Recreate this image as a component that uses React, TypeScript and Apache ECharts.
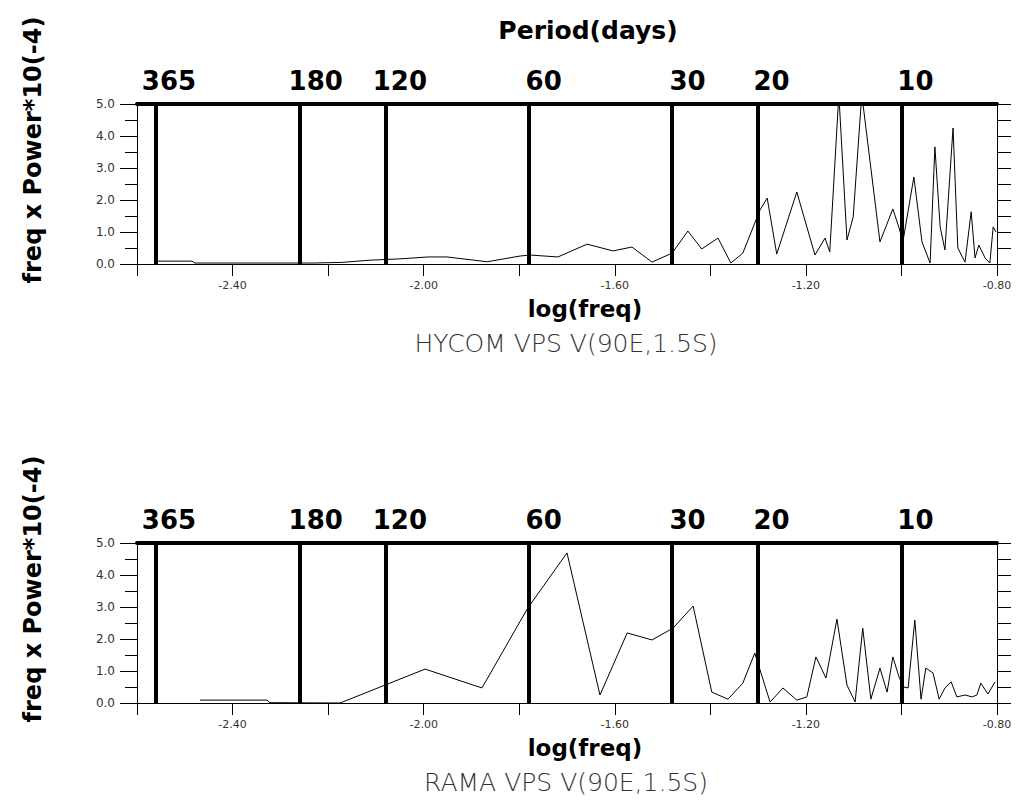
import React, { useEffect, useRef } from "react";
import * as echarts from "echarts";

const periods = [365, 180, 120, 60, 30, 20, 10];

const hycomLogFreq = [-2.558, -2.485, -2.479, -2.336, -2.232, -2.171, -2.112, -2.05, -1.991, -1.951, -1.867, -1.798, -1.777, -1.719, -1.658, -1.604, -1.564, -1.522, -1.48, -1.447, -1.418, -1.384, -1.357, -1.332, -1.296, -1.281, -1.261, -1.219, -1.181, -1.16, -1.15, -1.131, -1.114, -1.101, -1.083, -1.045, -1.018, -1.005, -0.997, -0.974, -0.957, -0.94, -0.93, -0.919, -0.909, -0.892, -0.882, -0.867, -0.854, -0.846, -0.838, -0.825, -0.815, -0.808, -0.802];
const hycomPower = [0.09, 0.09, 0.03, 0.03, 0.03, 0.05, 0.12, 0.16, 0.22, 0.22, 0.07, 0.25, 0.28, 0.22, 0.62, 0.41, 0.53, 0.06, 0.34, 1.03, 0.47, 0.81, 0.03, 0.34, 1.69, 2.06, 0.31, 2.25, 0.28, 0.81, 0.38, 5.3, 0.75, 1.47, 5.3, 0.69, 1.72, 1.13, 0.69, 2.72, 0.69, 0.03, 3.66, 1.16, 0.44, 4.25, 0.5, 0.06, 1.63, 0.19, 0.59, 0.19, 0.03, 1.16, 1.0];

const ramaLogFreq = [-2.468, -2.328, -2.322, -2.175, -1.997, -1.878, -1.782, -1.7, -1.631, -1.574, -1.522, -1.478, -1.436, -1.397, -1.363, -1.332, -1.307, -1.275, -1.248, -1.219, -1.198, -1.179, -1.158, -1.135, -1.114, -1.097, -1.081, -1.064, -1.045, -1.03, -1.018, -1.005, -0.995, -0.986, -0.972, -0.959, -0.949, -0.934, -0.921, -0.909, -0.896, -0.884, -0.867, -0.852, -0.842, -0.834, -0.819, -0.804];
const ramaPower = [0.09, 0.09, 0.01, 0.0, 1.06, 0.47, 2.97, 4.69, 0.25, 2.19, 1.97, 2.34, 3.03, 0.34, 0.12, 0.62, 1.56, 0.03, 0.47, 0.09, 0.19, 1.44, 0.78, 2.62, 0.56, 0.03, 2.34, 0.12, 1.09, 0.34, 1.44, 0.81, 0.5, 0.47, 2.59, 0.12, 1.09, 0.94, 0.12, 0.47, 0.66, 0.19, 0.25, 0.19, 0.25, 0.62, 0.28, 0.66];

const xMin = -2.6;
const xMax = -0.8;
const yMin = 0;
const yMax = 5;

const panelTitles = ["HYCOM VPS V(90E,1.5S)", "RAMA VPS V(90E,1.5S)"];
const yName = "freq x Power*10(-4)";
const xName = "log(freq)";
const topName = "Period(days)";

const GRID_LEFT = 137;
const GRID_WIDTH = 860;
const GRID_H = 160;
const GRID_TOPS = [104, 543];

export default function App() {
  const ref = useRef<HTMLDivElement>(null);
  useEffect(() => {
    if (!ref.current) return;
    const chart = echarts.init(ref.current, null, { renderer: "svg" });
    const panels = [
      { freq: hycomLogFreq, power: hycomPower },
      { freq: ramaLogFreq, power: ramaPower },
    ];
    const grid: any[] = [];
    const xAxis: any[] = [];
    const yAxis: any[] = [];
    const series: any[] = [];
    const graphic: any[] = [];
    const periodVals = periods.map((p) => -Math.log10(p));

    panels.forEach((pn, i) => {
      const top = GRID_TOPS[i];
      grid.push({
        left: GRID_LEFT,
        top,
        width: GRID_WIDTH,
        height: GRID_H,
        containLabel: false,
        outerBoundsMode: "none",
      });
      xAxis.push({
        type: "value",
        gridIndex: i,
        position: "bottom",
        min: xMin,
        max: xMax,
        interval: 0.2,
        axisLine: { show: true, onZero: false, lineStyle: { color: "#000", width: 1 } },
        axisTick: { show: true, inside: false, length: 12, lineStyle: { color: "#000", width: 1 } },
        axisLabel: {
          show: true,
          margin: 16,
          fontSize: 11,
          color: "#333",
          fontFamily: "DejaVu Sans",
          showMinLabel: true,
          showMaxLabel: true,
          formatter: (v: number) => {
            const k = Math.round(v * 100);
            return k % 40 === 0 ? v.toFixed(2) : "";
          },
        },
        splitLine: { show: false },
      });
      xAxis.push({
        type: "value",
        gridIndex: i,
        position: "top",
        min: xMin,
        max: xMax,
        axisLine: { show: true, onZero: false, lineStyle: { color: "#000", width: 4 } },
        axisTick: { show: false },
        axisLabel: {
          show: true,
          customValues: periodVals,
          margin: 10,
          fontSize: 26,
          fontWeight: "bold",
          color: "#000",
          fontFamily: "DejaVu Sans",
          padding: [0, 0, 0, 28],
          formatter: (v: number) => String(Math.round(Math.pow(10, -v))),
        },
        splitLine: { show: false },
      });
      yAxis.push({
        type: "value",
        gridIndex: i,
        position: "left",
        min: yMin,
        max: yMax,
        interval: 1,
        axisLine: { show: true, onZero: false, lineStyle: { color: "#000", width: 1 } },
        axisTick: { show: true, inside: false, length: 17, lineStyle: { color: "#000", width: 1 } },
        minorTick: { show: true, splitNumber: 2, length: 12, lineStyle: { color: "#000", width: 1 } },
        axisLabel: {
          show: true,
          margin: 22,
          fontSize: 12,
          color: "#333",
          fontFamily: "DejaVu Sans",
          formatter: (v: number) => v.toFixed(1),
        },
        splitLine: { show: false },
      });
      yAxis.push({
        type: "value",
        gridIndex: i,
        position: "right",
        min: yMin,
        max: yMax,
        interval: 0.5,
        axisLine: { show: true, onZero: false, lineStyle: { color: "#000", width: 1 } },
        axisTick: { show: true, inside: false, length: 14, lineStyle: { color: "#000", width: 1 } },
        axisLabel: { show: false },
        splitLine: { show: false },
      });
      series.push({
        type: "line",
        xAxisIndex: i * 2,
        yAxisIndex: i * 2,
        data: pn.freq.map((f, j) => [f, pn.power[j]]),
        showSymbol: false,
        symbol: "none",
        clip: true,
        lineStyle: { color: "#000", width: 1 },
        markLine: {
          silent: true,
          symbol: "none",
          label: { show: false },
          lineStyle: { color: "#000", width: 4, type: "solid" },
          data: periodVals.map((v) => ({ xAxis: v })),
        },
        z: 3,
      });
      graphic.push({
        type: "text",
        x: 585,
        y: top + GRID_H + 45,
        style: {
          text: xName,
          fontSize: 23,
          fontWeight: "bold",
          fontFamily: "DejaVu Sans",
          fill: "#000",
          align: "center",
          verticalAlign: "middle",
        },
      });
      graphic.push({
        type: "text",
        x: 566,
        y: top + GRID_H + 79,
        style: {
          text: panelTitles[i],
          fontSize: 25,
          fontWeight: 200,
          fontFamily: "DejaVu Sans",
          fill: "#333",
          align: "center",
          verticalAlign: "middle",
        },
      });
      graphic.push({
        type: "text",
        x: 33,
        y: top + 46,
        rotation: Math.PI / 2,
        style: {
          text: yName,
          fontSize: 24,
          fontWeight: "bold",
          fontFamily: "DejaVu Sans",
          fill: "#000",
          align: "center",
          verticalAlign: "middle",
        },
      });
    });

    graphic.push({
      type: "text",
      x: 588,
      y: 30,
      style: {
        text: topName,
        fontSize: 25,
        fontWeight: "bold",
        fontFamily: "DejaVu Sans",
        fill: "#000",
        align: "center",
        verticalAlign: "middle",
      },
    });

    chart.setOption({
      animation: false,
      backgroundColor: "#fff",
      grid,
      xAxis,
      yAxis,
      series,
      graphic,
    });
    return () => chart.dispose();
  }, []);
  return (
    <div
      ref={ref}
      style={{ position: "fixed", left: 0, top: 0, width: 1019, height: 801 }}
    />
  );
}
